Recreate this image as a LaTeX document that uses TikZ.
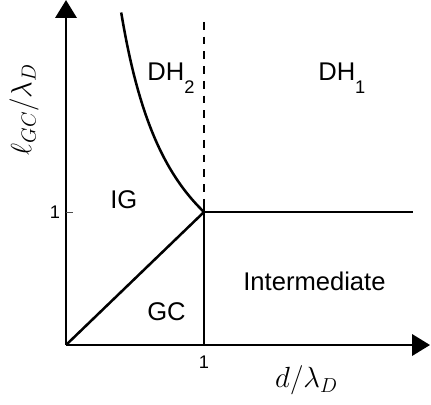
\documentclass[tikz,border=0pt]{standalone}
\usepackage{fontspec}
\setmainfont{Liberation Sans}
\usetikzlibrary{arrows.meta}
\newcommand{\lowsub}[1]{\raisebox{-0.52em}{\fontsize{13}{15}\selectfont #1}}

\begin{document}
\begin{tikzpicture}[
    x=3.45cm, y=3.325cm,
    every node/.style={inner sep=0pt},
    axis/.style={line width=2.1pt, -{Triangle[length=0.45cm, width=0.53cm]}},
    bound/.style={line width=1.8pt},
    region/.style={font=\fontsize{18.2}{21}\selectfont, anchor=base west},
    ticklab/.style={font=\fontsize{13}{15}\selectfont},
    axlabel/.style={font=\fontsize{20}{24}\selectfont}
]
\useasboundingbox (-0.4783,-0.4436) rectangle (2.6449,2.5940);

% key points
\coordinate (O)  at (0,0);
\coordinate (P)  at (1,1);
\coordinate (Pb) at (1,0);
\coordinate (Pt) at (1,1.07);
\coordinate (Dt) at (1,2.43);
\coordinate (Hr) at (2.514,1);
\coordinate (Xe) at (2.638,0);
\coordinate (Ye) at (0,2.594);
\coordinate (Yt) at (0.05,1);

% ── axes ────────────────────────────────────────────
\draw[axis] (O) -- (Xe);
\draw[axis] (O) -- (Ye);
\draw[line width=0.7pt, black!70] (0,1) -- (Yt);

% ── phase boundaries ────────────────────────────────
\draw[bound] plot[domain=0.4:1, samples=60, smooth] (\x,{1/\x});
\draw[bound, dash pattern=on 5.5pt off 5pt] (Dt) -- (P);
\draw[bound] (P) -- (Hr);
\draw[bound] (Pt) -- (Pb);
\draw[bound] (O) -- (P);

% ── region labels ───────────────────────────────────
\node[region] (dh2) at (0.587,1.992) {DH\lowsub{2}};
\node[region] (dh1) at (1.826,1.992) {DH\lowsub{1}};
\node[region] (ig)  at (0.319,1.030) {IG};
\node[region] (gc)  at (0.587,0.188) {GC};
\node[region] (im)  at (1.283,0.4135) {Intermediate};

% ── ticks and axis labels ───────────────────────────
\node[ticklab] (ty) at (-0.080,1) {1};
\node[ticklab] (tx) at (1,-0.128) {1};
\node[axlabel, anchor=base west] (xl) at (1.514,-0.323) {$d/\lambda_D$};
\node[axlabel, rotate=90, font=\fontsize{22}{26}\selectfont] (yl) at (-0.304,1.77) {$\ell_{GC}/\lambda_D$};

\end{tikzpicture}
\end{document}
